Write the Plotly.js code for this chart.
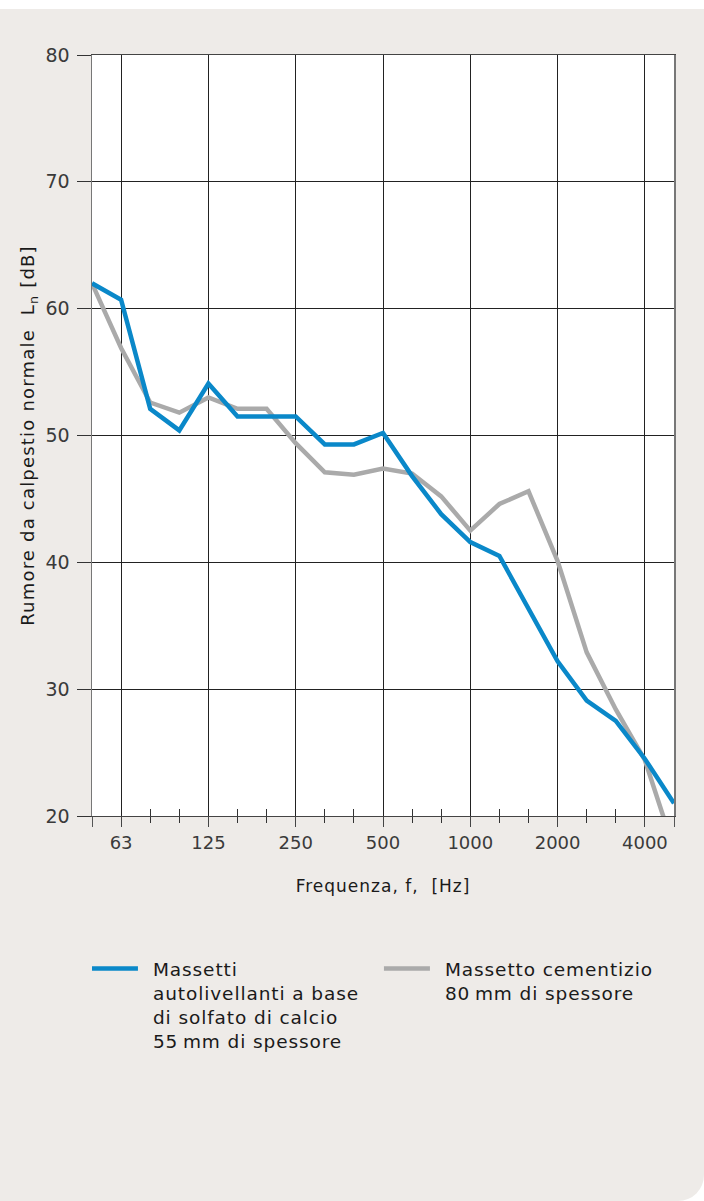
<!DOCTYPE html>
<html>
<head>
<meta charset="utf-8">
<script src="https://cdn.plot.ly/plotly-3.0.1.min.js"></script>
<style>
  html, body { margin: 0; padding: 0; background: #ffffff; }
  #panel { position: absolute; left: 0; top: 9px; width: 704px; height: 1192px; background: #eeebe8; border-bottom-right-radius: 26px; }
  #chart { position: absolute; left: 0; top: 0; width: 704px; height: 1201px; }
  /* the reference typeface is a wide geometric sans: open the tracking a little */
  #chart .legendtext { letter-spacing: 0.9px; }
  #chart .g-xtitle text { letter-spacing: 1px; }
  #chart .g-ytitle text { letter-spacing: 1.2px; }
</style>
</head>
<body>
<div id="panel"></div>
<div id="chart"></div>
<script>
// third-octave band centre frequencies (Hz)
const bands = ['50','63','80','100','125','160','200','250','315','400','500','630','800','1000','1250','1600','2000','2500','3150','4000','5000'];
// labelled bands on the axis
const tickBands = ['63','125','250','500','1000','2000','4000'];
const tickLabels = ['63', '125', '250', '500', '1000', '2000', '4000'];
// bands at the plot edges
const edgeBands = ['50', '5000'];
// Ln values (dB)
const solfatoCalcio = [62.0, 60.7, 52.1, 50.4, 54.1, 51.5, 51.5, 51.5, 49.3, 49.3, 50.2, 46.8, 43.8, 41.6, 40.5, 36.4, 32.2, 29.1, 27.5, 24.5, 21.0];
const cementizio    = [62.0, 56.9, 52.6, 51.8, 53.0, 52.1, 52.1, 49.4, 47.1, 46.9, 47.4, 47.0, 45.2, 42.5, 44.6, 45.6, 40.1, 32.9, 28.4, 24.4, 17.4];
const seriesNames = [
  'Massetti<br>autolivellanti a base<br>di solfato di calcio<br>55\u2009mm di spessore',
  'Massetto cementizio<br>80\u2009mm di spessore'
];

const idx = bands.map((b, i) => i);
const majorIdx = tickBands.map(b => bands.indexOf(b));
const edgeIdx = edgeBands.map(b => bands.indexOf(b));
const minorIdx = idx.filter(i => majorIdx.indexOf(i) < 0 && edgeIdx.indexOf(i) < 0);

const font = "'DejaVu Sans', 'Open Sans', sans-serif";

const traces = [
  { x: idx, y: cementizio, name: seriesNames[1], mode: 'lines', legendrank: 2,
    line: { color: '#aaaaaa', width: 4.5 }, hoverinfo: 'skip' },
  { x: idx, y: solfatoCalcio, name: seriesNames[0], mode: 'lines', legendrank: 1,
    line: { color: '#0a88c9', width: 4.5 }, hoverinfo: 'skip' },
  { x: [], y: [], xaxis: 'x2', showlegend: false, hoverinfo: 'skip' }
];

const layout = {
  width: 704, height: 1201,
  margin: { l: 92, r: 30, t: 55, b: 385 },
  paper_bgcolor: 'rgba(0,0,0,0)',
  plot_bgcolor: '#ffffff',
  font: { family: font, color: '#333333' },
  showlegend: true,
  xaxis: {
    range: [0, bands.length - 1],
    tickmode: 'array', tickvals: majorIdx, ticktext: tickLabels,
    ticks: 'outside', ticklen: 10, tickwidth: 1, tickcolor: '#444',
    showgrid: true, gridcolor: '#222', gridwidth: 1,
    showline: true, mirror: true, linecolor: '#444', linewidth: 1,
    zeroline: false,
    tickfont: { size: 18, color: '#3a3a3a' },
    minor: { tickmode: 'array', tickvals: minorIdx, ticks: 'inside', ticklen: 7, tickwidth: 1, tickcolor: '#333', showgrid: false },
    title: { text: 'Frequenza, f,  [Hz]', font: { size: 17, color: '#1a1a1a' }, standoff: 28 },
    automargin: false
  },
  xaxis2: {
    overlaying: 'x', anchor: 'y', side: 'bottom',
    range: [0, bands.length - 1],
    tickmode: 'array', tickvals: edgeIdx, showticklabels: false,
    ticks: 'outside', ticklen: 10, tickwidth: 1, tickcolor: '#555',
    minor: { tickmode: 'array', tickvals: minorIdx, ticks: 'outside', ticklen: 6, tickwidth: 1, tickcolor: '#333', showgrid: false },
    showgrid: false, zeroline: false, showline: false
  },
  yaxis: {
    range: [20, 80],
    tickmode: 'array', tickvals: [20, 30, 40, 50, 60, 70, 80],
    ticks: 'outside', ticklen: 14, tickwidth: 1, tickcolor: '#333',
    showgrid: true, gridcolor: '#222', gridwidth: 1,
    showline: true, mirror: true, linecolor: '#777', linewidth: 1.5,
    zeroline: false,
    ticklabelstandoff: 3,
    tickfont: { size: 19, color: '#3a3a3a' },
    title: { text: 'Rumore da calpestio normale  L<sub>n</sub> [dB]', font: { size: 18, color: '#1a1a1a' }, standoff: 6 },
    automargin: false
  },
  legend: {
    orientation: 'h',
    x: -0.0001, xanchor: 'left',
    y: -0.1761, yanchor: 'top',
    valign: 'top',
    itemwidth: 51,
    entrywidth: 226, entrywidthmode: 'pixels',
    font: { size: 18.5, color: '#1a1a1a' },
    bgcolor: 'rgba(0,0,0,0)',
    traceorder: 'normal'
  }
};

Plotly.newPlot('chart', traces, layout, { displayModeBar: false, staticPlot: true }).then(function (gd) {
  // lengthen the legend line keys to match the reference
  gd.querySelectorAll('.legend .legendlines path').forEach(function (p) {
    p.setAttribute('d', 'M0,0h46');
  });
});
</script>
</body>
</html>
